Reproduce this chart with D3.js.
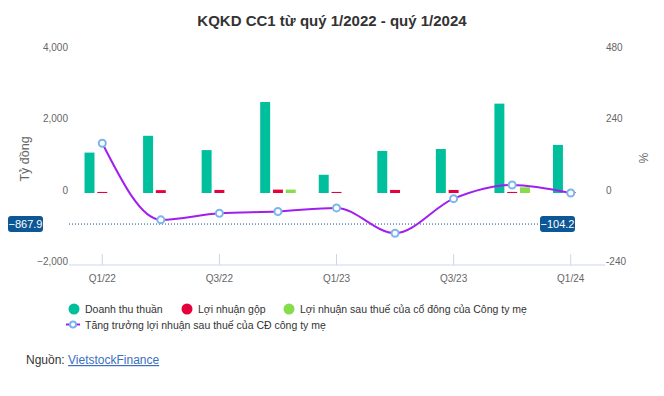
<!DOCTYPE html>
<html>
<head>
<meta charset="utf-8">
<script src="https://cdn.jsdelivr.net/npm/d3@7"></script>
<style>
  body { margin: 0; background: #fff; font-family: "Liberation Sans", Arial, sans-serif; }
  #container svg { display: block; }
</style>
</head>
<body>
<div id="container"></div>
<script>
// quarters
const quarters = ["Q1/22", "Q2/22", "Q3/22", "Q4/22", "Q1/23", "Q2/23", "Q3/23", "Q4/23", "Q1/24"];
const tickQuarters = ["Q1/22", "Q3/22", "Q1/23", "Q3/23", "Q1/24"];
// ty dong
const doanhThu = [1130, 1600, 1200, 2545, 510, 1175, 1230, 2500, 1345];
const loiNhuanGop = [30, 80, 85, 95, 30, 85, 85, 30, 25];
const lnst = [0, 0, 0, 95, 0, 0, 0, 160, 0];
// %
const tangTruong = [167, -90, -68, -62, -50, -135, -19, 27, 0];
const avgLeft = -867.9;
const avgRight = -104.2;
const leftTicks = [-2000, 0, 2000, 4000];
const rightTicks = [-240, 0, 240, 480];

const W = 664, H = 396;
const colors = ["#00bf9c", "#e6003c", "#86dc4c"];
const lineColor = "#a11ef0";

const svg = d3.select("#container").append("svg")
  .attr("width", W).attr("height", H);

svg.append("text")
  .attr("x", 332).attr("y", 26)
  .attr("text-anchor", "middle")
  .style("font-size", "15px").style("font-weight", "bold").style("fill", "#333")
  .text("KQKD CC1 từ quý 1/2022 - quý 1/2024");

const x = d3.scaleBand().domain(quarters).range([73, 600]);
const yL = d3.scaleLinear().domain([-2000, 4000]).range([264.5, 50]);
const yR = d3.scaleLinear().domain([-240, 480]).range([264.5, 50]);

// left axis labels
svg.append("g").selectAll("text").data(leftTicks).join("text")
  .attr("x", 68).attr("y", d => yL(d) + 0.5)
  .attr("text-anchor", "end")
  .style("font-size", "10px").style("fill", "#666")
  .text(d => d3.format(",")(d));

svg.append("g").selectAll("text").data(rightTicks).join("text")
  .attr("x", 606).attr("y", d => yR(d) + 0.5)
  .style("font-size", "10px").style("fill", "#666")
  .text(d => d);

svg.append("text")
  .attr("transform", "translate(29,159) rotate(-90)")
  .attr("text-anchor", "middle")
  .style("font-size", "12.5px").style("fill", "#666")
  .text("Tỷ đồng");

svg.append("text")
  .attr("transform", "translate(639,158) rotate(90)")
  .attr("text-anchor", "middle")
  .style("font-size", "12px").style("fill", "#666")
  .text("%");

// x axis
const xAxis = svg.append("g").attr("transform", "translate(0,265)");
xAxis.append("line").attr("x1", 69).attr("x2", 605).attr("stroke", "#ccd6eb");
xAxis.selectAll(".tk").data(tickQuarters).join("line")
  .attr("x1", d => x(d) + x.bandwidth() / 2).attr("x2", d => x(d) + x.bandwidth() / 2)
  .attr("y1", 0).attr("y2", -11).attr("stroke", "#ccd6eb");
xAxis.selectAll("text").data(tickQuarters).join("text")
  .attr("x", d => x(d) + x.bandwidth() / 2).attr("y", 17)
  .attr("text-anchor", "middle")
  .style("font-size", "10px").style("fill", "#666")
  .text(d => d);

// bars
const x1 = d3.scaleBand().domain([0, 1, 2]).range([0, 35.5]).paddingInner(0.22);
const series = [doanhThu, loiNhuanGop, lnst];
series.forEach((vals, si) => {
  svg.append("g").selectAll("rect").data(vals).join("rect")
    .attr("x", (d, i) => x(quarters[i]) + x.bandwidth() / 2 - 17.75 + x1(si))
    .attr("width", x1.bandwidth())
    .attr("y", d => Math.min(yL(d), yL(0)))
    .attr("height", d => Math.abs(yL(d) - yL(0)))
    .attr("fill", colors[si]);
});

// average line
const avgY = yR(avgRight);
svg.append("line")
  .attr("x1", 69).attr("x2", 541).attr("y1", avgY).attr("y2", avgY)
  .attr("stroke", "#0d4f8b").attr("stroke-width", 1).attr("stroke-dasharray", "1,2");

function badge(xl, text) {
  const g = svg.append("g");
  g.append("rect").attr("x", xl).attr("y", avgY - 8).attr("width", 35).attr("height", 16)
    .attr("rx", 3).attr("fill", "#0d5796");
  g.append("text").attr("x", xl + 17.5).attr("y", avgY + 4)
    .attr("text-anchor", "middle")
    .style("font-size", "11px").style("fill", "#fff")
    .text(text);
}
badge(8, d3.format(".1f")(avgLeft));
badge(540, d3.format(".1f")(avgRight));

// growth line
const line = d3.line()
  .x((d, i) => x(quarters[i]) + x.bandwidth() / 2)
  .y(d => yR(d))
  .curve(d3.curveMonotoneX);
svg.append("path").datum(tangTruong)
  .attr("fill", "none").attr("stroke", lineColor).attr("stroke-width", 2)
  .attr("d", line);
svg.append("g").selectAll("circle").data(tangTruong).join("circle")
  .attr("cx", (d, i) => x(quarters[i]) + x.bandwidth() / 2)
  .attr("cy", d => yR(d))
  .attr("r", 3.5)
  .attr("fill", "#fff").attr("stroke", "#7cb5ec").attr("stroke-width", 2);

// legend
const legendItems = [
  { name: "Doanh thu thuần", x: 74 },
  { name: "Lợi nhuận gộp", x: 187 },
  { name: "Lợi nhuận sau thuế của cổ đông của Công ty mẹ", x: 289 }
];
const lg = svg.append("g");
legendItems.forEach((it, i) => {
  lg.append("circle").attr("cx", it.x).attr("cy", 309).attr("r", 5.5).attr("fill", colors[i]);
  lg.append("text").attr("x", it.x + 11).attr("y", 313)
    .style("font-size", "10.5px").style("fill", "#333").text(it.name);
});
lg.append("line").attr("x1", 66).attr("x2", 80).attr("y1", 324.5).attr("y2", 324.5)
  .attr("stroke", lineColor).attr("stroke-width", 2);
lg.append("circle").attr("cx", 73).attr("cy", 324.5).attr("r", 3)
  .attr("fill", "#fff").attr("stroke", "#7cb5ec").attr("stroke-width", 2);
lg.append("text").attr("x", 85).attr("y", 328.5)
  .style("font-size", "10.5px").style("fill", "#333")
  .text("Tăng trưởng lợi nhuận sau thuế của CĐ công ty mẹ");

// source
const src = svg.append("text").attr("x", 26).attr("y", 364).style("font-size", "12px");
src.append("tspan").style("fill", "#333").text("Nguồn: ");
src.append("tspan").style("fill", "#3b6fc0").style("text-decoration", "underline").text("VietstockFinance");
</script>
</body>
</html>
